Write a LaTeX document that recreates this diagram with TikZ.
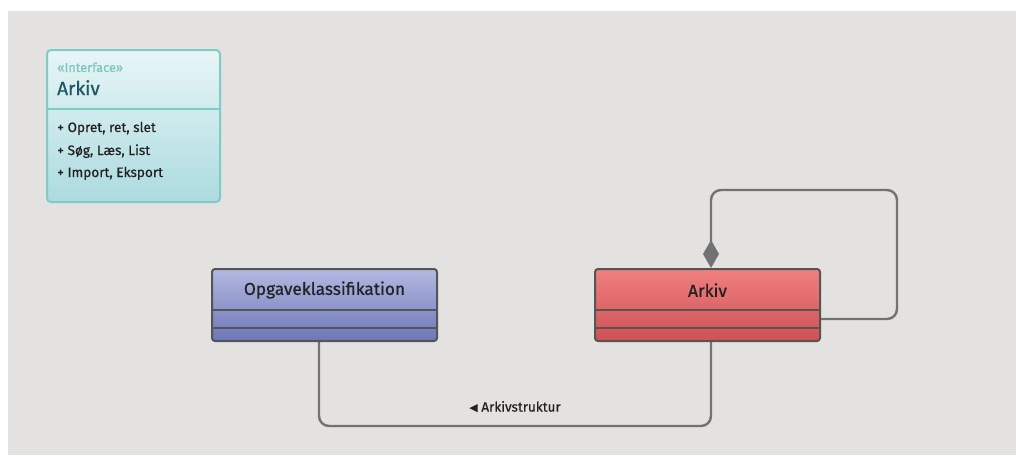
\documentclass[tikz,border=0pt]{standalone}
\usepackage{fontspec}
\setmainfont{Fira Sans}[FakeBold=0.6]
\newfontfamily\symfont{DejaVu Sans}
\usetikzlibrary{arrows.meta,calc}
\definecolor{panel}{HTML}{E3E2E0}
\definecolor{edge}{HTML}{555555}
\definecolor{wire}{HTML}{727272}
\definecolor{tealline}{HTML}{7FCBC7}
\definecolor{tealtext}{HTML}{7CC4BF}
\definecolor{tealdark}{HTML}{1E5864}
\definecolor{ink}{HTML}{222222}
\definecolor{ifacetop}{RGB}{232,245,246}
\definecolor{ifacebot}{RGB}{172,219,223}
\definecolor{opgtop}{RGB}{180,185,225}
\definecolor{opgbot}{RGB}{108,118,184}
\definecolor{arktop}{RGB}{240,128,128}
\definecolor{arkbot}{RGB}{208,80,85}
\tikzset{
  classbox/.style={draw=edge, line width=2pt, rounded corners=3pt, minimum width=225pt, minimum height=72pt, inner sep=0pt},
  divider/.style={draw=edge, line width=2pt},
  conn/.style={draw=wire, line width=2.4pt, rounded corners=10pt},
  title/.style={font=\fontsize{17.3}{19}\selectfont, text=ink},
  member/.style={font=\fontsize{13.6}{15}\selectfont, text=ink, anchor=base west, inner sep=0pt},
}
\begin{document}
\begin{tikzpicture}[x=1pt,y=-1pt]
\useasboundingbox (0,0) rectangle (1016,455);
% backdrop
\fill[panel] (8,11) rectangle (1016,455);

% interface box
\node[draw=tealline, line width=2pt, rounded corners=4pt, top color=ifacetop, bottom color=ifacebot,
      minimum width=173pt, minimum height=152pt, inner sep=0pt] (iface) at (133.5,126) {};
\draw[tealline, line width=2pt] (iface.west |- 0,109) -- (iface.east |- 0,109);
\node[member, text=tealtext, font=\fontsize{12.8}{14}\selectfont] (stereo) at (57,72) {«Interface»};
\node[member, text=tealdark, font=\fontsize{19}{21}\selectfont] (iname) at (57,95) {Arkiv};
\node[member] (m1) at (57,132) {+ Opret, ret, slet};
\node[member] (m2) at (57,155) {+ Søg, Læs, List};
\node[member] (m3) at (57,177) {+ Import, Eksport};

% class boxes
\node[classbox, top color=opgtop, bottom color=opgbot] (opg) at (324.5,305) {};
\node[title] (opgt) at (324.5,290) {Opgaveklassifikation};
\draw[divider] (opg.west |- 0,310) -- (opg.east |- 0,310);
\draw[divider] (opg.west |- 0,328) -- (opg.east |- 0,328);

\node[classbox, top color=arktop, bottom color=arkbot] (ark) at (707.5,305) {};
\node[title] (arkt) at (707.5,290) {Arkiv};
\draw[divider] (ark.west |- 0,310) -- (ark.east |- 0,310);
\draw[divider] (ark.west |- 0,328) -- (ark.east |- 0,328);

% self association with composition diamond
\coordinate (loop) at (897,190);
\draw[conn, -{Diamond[length=28pt,width=16pt,fill=wire]}] ([yshift=-14pt]ark.east) -| (loop) -| ([xshift=3.5pt]ark.north);

% association between the classes
\coordinate (low) at (518,426);
\draw[conn] ([xshift=-5.5pt]opg.south) |- (low) -| ([xshift=3.5pt]ark.south);
\node[font=\fontsize{13.5}{15}\selectfont, text=ink] (lbl) at (515,407) {{\symfont\fontsize{11}{12}\selectfont ◀} Arkivstruktur};
\end{tikzpicture}
\end{document}
